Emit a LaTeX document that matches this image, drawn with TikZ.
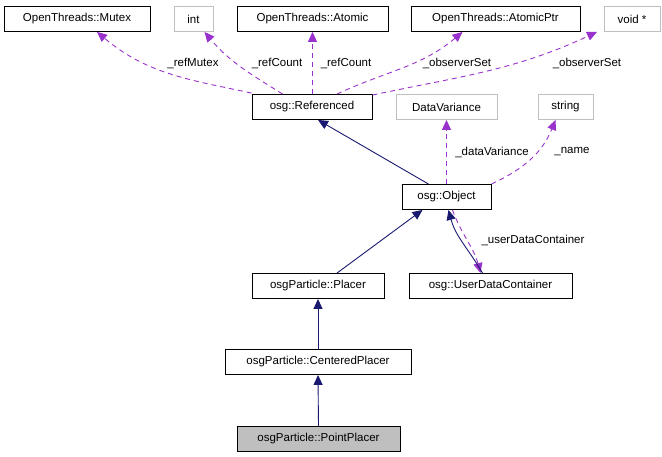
\documentclass[tikz,border=0pt]{standalone}
\usepackage{fontspec}
\setmainfont{Liberation Sans}
\usetikzlibrary{arrows.meta,calc}

\begin{document}
\begin{tikzpicture}[x=1pt,y=-1pt,font=\fontsize{11.5}{13}\selectfont]
% Define colors and styles
\definecolor{edgeviolet}{RGB}{153,50,204}
\definecolor{edgenavy}{RGB}{25,25,112}
\tikzset{
  cls/.style={draw=black,fill=white,minimum height=25pt,inner sep=2pt,line width=0.9pt},
  ext/.style={draw=black!25,fill=white,minimum height=25pt,inner sep=2pt,line width=0.9pt},
  inherit/.style={draw=edgenavy,line width=0.9pt,-{Triangle[length=10pt,width=9pt]}},
  member/.style={draw=edgeviolet,dashed,dash pattern=on 5pt off 4pt,line width=0.9pt,-{Triangle[length=10pt,width=9pt]}},
  lbl/.style={inner sep=1pt}
}
\useasboundingbox (0,0) rectangle (662,457);

% Draw member types
\node[cls,minimum width=146pt] (mutex) at (77,19) {OpenThreads::Mutex};
\node[ext,minimum width=39pt] (int) at (193.5,19) {int};
\node[cls,minimum width=151pt] (atomic) at (312.5,19) {OpenThreads::Atomic};
\node[cls,minimum width=169pt] (atomicptr) at (495.5,19) {OpenThreads::AtomicPtr};
\node[ext,minimum width=56pt] (voidp) at (632,19) {void *};
\node[cls,minimum width=120pt] (referenced) at (312,107) {osg::Referenced};
\node[ext,minimum width=101pt] (variance) at (446.5,107) {DataVariance};
\node[ext,minimum width=55pt] (string) at (565.5,107) {string};

% Draw classes
\node[cls,minimum width=89pt] (object) at (446.5,197) {osg::Object};
\node[cls,minimum width=132pt] (placer) at (318,286) {osgParticle::Placer};
\node[cls,minimum width=163pt] (udc) at (490.5,286) {osg::UserDataContainer};
\node[cls,minimum width=186pt] (centered) at (318,362) {osgParticle::CenteredPlacer};
\node[cls,minimum width=163pt,fill=black!25] (point) at (318.5,439) {osgParticle::PointPlacer};

% Add member links
\draw[member] ($(referenced.north west)+(0,-1)$) to[out=168,in=-40] ($(mutex.south)+(20,0)$);
\draw[member] ($(referenced.north west)+(31,0)$) to[out=148,in=-50] ($(int.south)+(11,0)$);
\draw[member] (referenced.north -| atomic.south) -- (atomic.south);
\draw[member] ($(referenced.north)+(25,0)$) to[out=25,in=-140] ($(atomicptr.south)+(-33,0)$);
\draw[member] ($(referenced.north east)+(0,1)$) to[out=12,in=-155] ($(voidp.south)+(-35,0)$);
\draw[member] (object.north -| variance.south) -- (variance.south);
\draw[member] ($(object.north east)+(0,0)$) to[out=25,in=-112] ($(string.south)+(-10,0)$);
\draw[member] ($(object.south)+(6,0)$) to[out=-70,in=105] ($(udc.north)+(-10,0)$);

% Add member labels
\node[lbl] at (193,63) {\_refMutex};
\node[lbl] at (277,63) {\_refCount};
\node[lbl] at (346,63) {\_refCount};
\node[lbl] at (457,63) {\_observerSet};
\node[lbl] at (587,63) {\_observerSet};
\node[lbl] at (492,152) {\_dataVariance};
\node[lbl] at (572,152) {\_name};
\node[lbl] at (533,240) {\_userDataContainer};

% Draw inheritance
\draw[inherit] ($(object.north)+(-18,0)$) -- ($(referenced.south)+(6,0)$);
\draw[inherit] ($(placer.north)+(19,0)$) -- ($(object.south)+(-24,0)$);
\draw[inherit] ($(udc.north)+(-8,0)$) to[out=120,in=-75] ($(object.south)+(2,0)$);
\draw[inherit] (centered.north) -- (placer.south);
\draw[inherit] (point.north) -- (centered.south);
\end{tikzpicture}
\end{document}
